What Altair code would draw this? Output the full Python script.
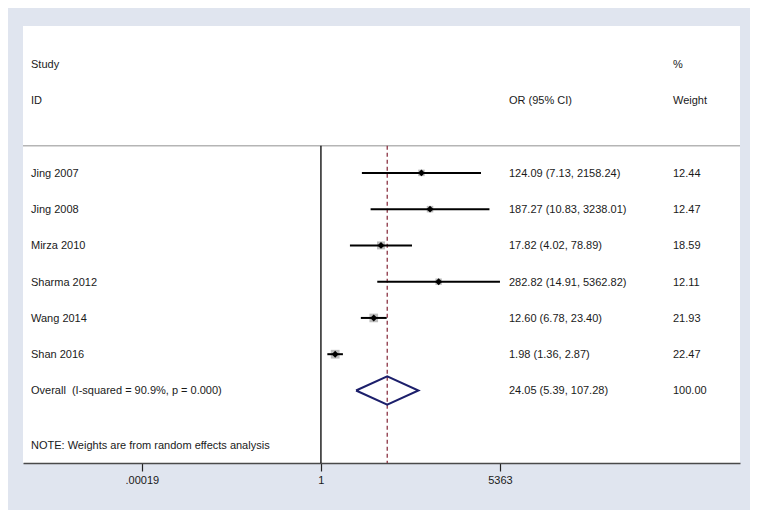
import math
import altair as alt
import pandas as pd

# ---- data ----
studies = ["Jing 2007", "Jing 2008", "Mirza 2010", "Sharma 2012", "Wang 2014", "Shan 2016"]
or_vals = [124.09, 187.27, 17.82, 282.82, 12.60, 1.98]
ci_low = [7.13, 10.83, 4.02, 14.91, 6.78, 1.36]
ci_high = [2158.24, 3238.01, 78.89, 5362.82, 23.40, 2.87]
weights = [12.44, 12.47, 18.59, 12.11, 21.93, 22.47]

overall_label = "Overall\u00a0\u00a0(I-squared = 90.9%, p = 0.000)"
overall_or = 24.05
overall_low = 5.39
overall_high = 107.28
overall_weight = 100.00

tick_values = [1 / 5363, 1, 5363]
tick_labels = [".00019", "1", "5363"]
note_text = "NOTE: Weights are from random effects analysis"

# ---- tables ----
rows = list(range(3, 3 + len(studies)))
study_df = pd.DataFrame({
    "study": studies, "row": rows, "or": or_vals, "lo": ci_low, "hi": ci_high,
    "w": weights,
    "ci_text": [f"{o:.2f} ({l:.2f}, {h:.2f})" for o, l, h in zip(or_vals, ci_low, ci_high)],
    "w_text": [f"{w:.2f}" for w in weights],
})
overall_row = 3 + len(studies)
overall_df = pd.DataFrame({
    "study": [overall_label], "row": [overall_row],
    "ci_text": [f"{overall_or:.2f} ({overall_low:.2f}, {overall_high:.2f})"],
    "w_text": [f"{overall_weight:.2f}"],
})
half = 0.39
diamond_df = pd.DataFrame({
    "x": [overall_low, overall_or, overall_high, overall_or, overall_low],
    "y": [overall_row, overall_row - half, overall_row, overall_row + half, overall_row],
    "o": [0, 1, 2, 3, 4],
})

sep_y = 2.25
bottom_y = 11
lines_df = pd.DataFrame({"x": [1.0], "y": [sep_y], "y2": [bottom_y]})
dash_df = pd.DataFrame({"x": [overall_or], "y": [sep_y], "y2": [bottom_y]})
sep_df = pd.DataFrame({"y": [sep_y]})

header_df = pd.DataFrame({
    "t": ["Study", "ID", "OR (95% CI)", "%", "Weight", note_text],
    "row": [0, 1, 1, 0, 1, 10.5],
    "col": ["l", "l", "m", "r", "r", "l"],
})

FONT = "Liberation Sans"
FS = 11
TXT = "#1a1a1a"

xscale = alt.Scale(type="log", domain=[math.exp(-14.29), math.exp(20.1)], nice=False)
yscale = alt.Scale(domain=[-1.05, 11], reverse=True, nice=False, zero=False)

label_expr = ("datum.value < 0.001 ? '%s' : (datum.value < 2 ? '%s' : '%s')"
              % (tick_labels[0], tick_labels[1], tick_labels[2]))

x_axis = alt.Axis(values=tick_values, labelExpr=label_expr, title=None, grid=False,
                  domainColor="#4a4a4a", domainWidth=1.6, tickColor="#222222",
                  tickSize=8, tickWidth=1.2, labelFont=FONT, labelFontSize=FS,
                  labelColor=TXT, labelPadding=3)

y_enc = alt.Y("row:Q", scale=yscale, axis=None)

axis_layer = alt.Chart(lines_df).mark_rule(opacity=0).encode(
    x=alt.X("x:Q", scale=xscale, axis=x_axis),
    y=alt.Y("y:Q", scale=yscale, axis=None),
)

sep = alt.Chart(sep_df).mark_rule(color="#b5b5b5", strokeWidth=1.5).encode(
    y=alt.Y("y:Q", scale=yscale, axis=None), x=alt.value(0), x2=alt.value(717)
)

null_line = alt.Chart(lines_df).mark_rule(color="#000000", strokeWidth=1.3).encode(
    x=alt.X("x:Q", scale=xscale, axis=x_axis),
    y=alt.Y("y:Q", scale=yscale, axis=None), y2="y2:Q",
)

dash_line = alt.Chart(dash_df).mark_rule(color="#8c3444", strokeWidth=1.3, strokeDash=[4, 3]).encode(
    x=alt.X("x:Q", scale=xscale), y=alt.Y("y:Q", scale=yscale, axis=None), y2="y2:Q",
)

boxes = alt.Chart(study_df).mark_square(color="#bdbdbd", opacity=1, filled=True).encode(
    x=alt.X("or:Q", scale=xscale), y=y_enc,
    size=alt.Size("w:Q", scale=alt.Scale(type="linear", domain=[0, 25], range=[0, 85]), legend=None),
)

ci = alt.Chart(study_df).mark_rule(color="#000000", strokeWidth=2).encode(
    x=alt.X("lo:Q", scale=xscale), x2="hi:Q", y=y_enc,
)

pts = alt.Chart(study_df).mark_point(shape="diamond", filled=True, color="#000000", size=48, opacity=1).encode(
    x=alt.X("or:Q", scale=xscale), y=y_enc,
)

diamond = alt.Chart(diamond_df).mark_line(color="#1c1f6b", strokeWidth=2).encode(
    x=alt.X("x:Q", scale=xscale), y=alt.Y("y:Q", scale=yscale, axis=None), order="o:Q",
)

def text_layer(df, field, xpix):
    return alt.Chart(df).mark_text(align="left", baseline="middle", font=FONT,
                                   fontSize=FS, color=TXT, dy=1).encode(
        x=alt.value(xpix), y=y_enc, text=f"{field}:N")

lbl = text_layer(study_df, "study", 8)
cit = text_layer(study_df, "ci_text", 486)
wt = text_layer(study_df, "w_text", 650)
olbl = text_layer(overall_df, "study", 8)
ocit = text_layer(overall_df, "ci_text", 486)
owt = text_layer(overall_df, "w_text", 650)

hdr_l = text_layer(header_df[header_df.col == "l"], "t", 8)
hdr_m = text_layer(header_df[header_df.col == "m"], "t", 486)
hdr_r = text_layer(header_df[header_df.col == "r"], "t", 650)

chart = alt.layer(
    axis_layer, sep, null_line, dash_line, boxes, ci, pts, diamond,
    lbl, cit, wt, olbl, ocit, owt, hdr_l, hdr_m, hdr_r,
).properties(
    width=717, height=437,
    padding={"left": 15, "top": 18, "right": 10, "bottom": 47},
    autosize=alt.AutoSizeParams(type="none"),
    background="#e0e5ef",
).configure_view(fill="white", stroke="white", strokeWidth=0)

chart.save("out.html", embed_options={"renderer": "svg", "actions": False})
